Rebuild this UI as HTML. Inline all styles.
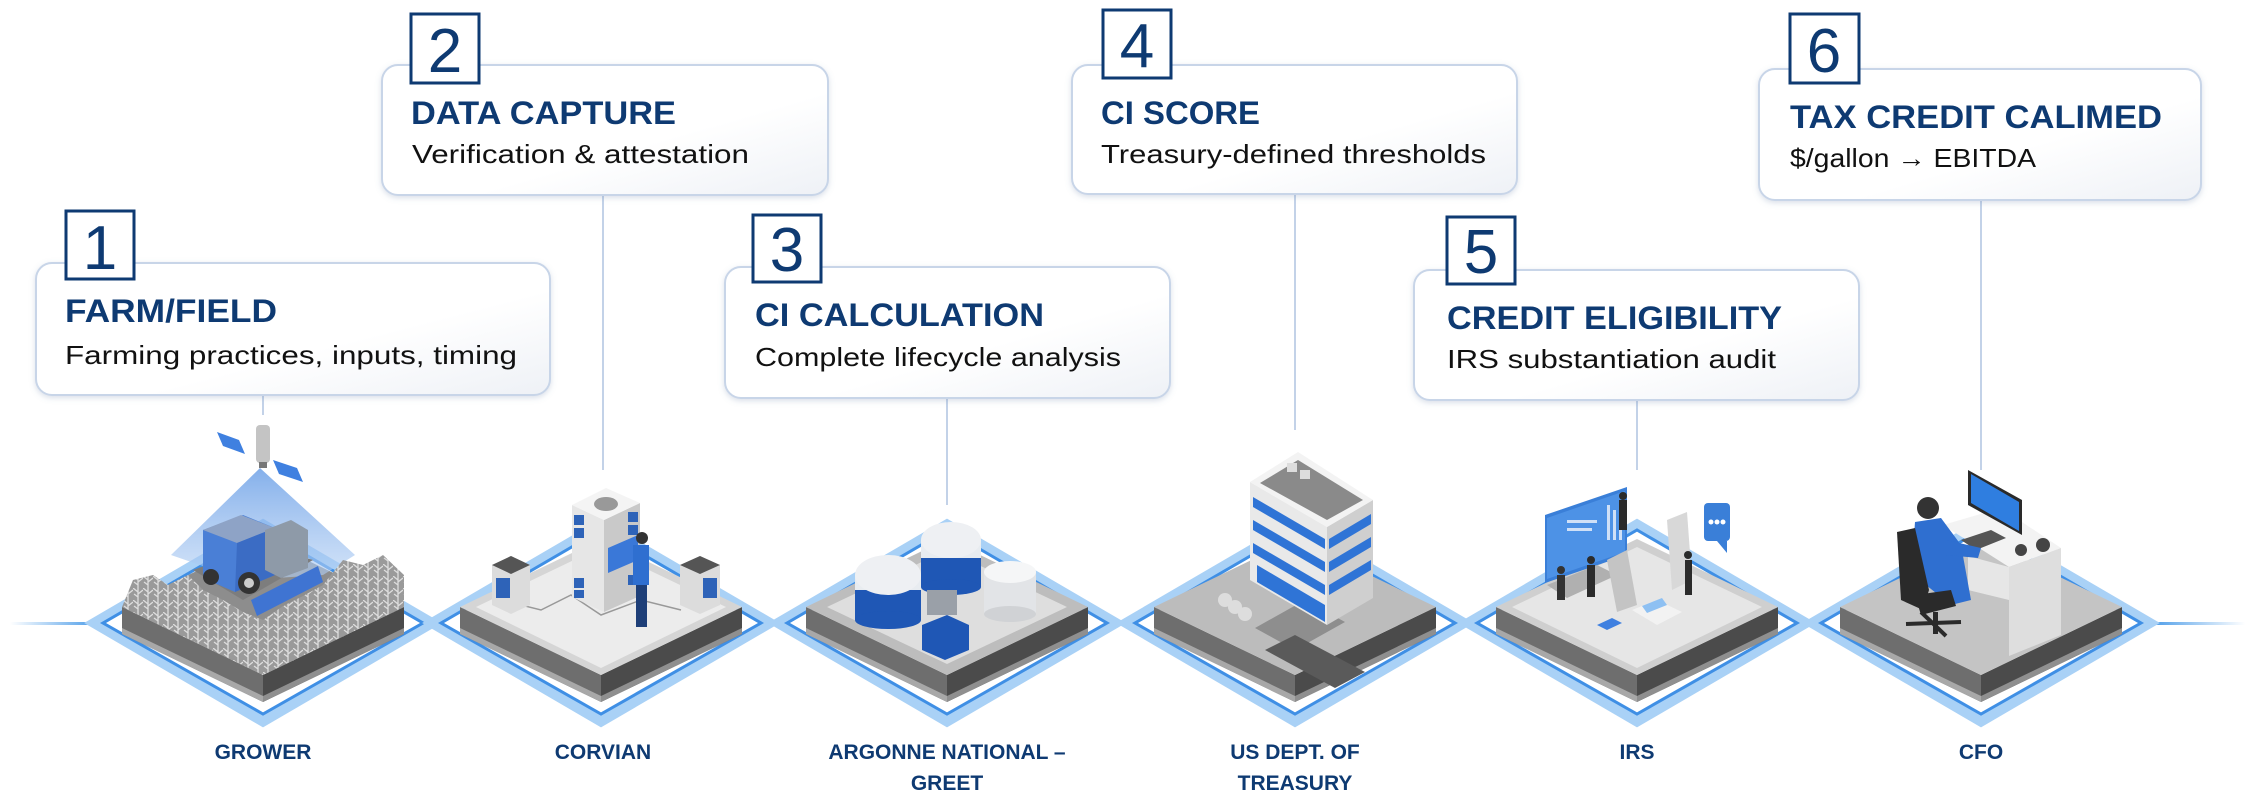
<!DOCTYPE html>
<html><head><meta charset="utf-8"><style>
html,body{margin:0;padding:0;background:#fff;}
svg{display:block;}
.t{font-family:"Liberation Sans",sans-serif;font-weight:bold;fill:#0e3a72;font-size:32px;}
.s{font-family:"Liberation Sans",sans-serif;fill:#111;font-size:26px;}
.n{font-family:"Liberation Sans",sans-serif;fill:#0e3a72;font-size:62px;text-anchor:middle;}
.l{font-family:"Liberation Sans",sans-serif;font-weight:bold;fill:#0e3a72;font-size:21px;text-anchor:middle;}
</style></head><body>
<svg width="2251" height="802" viewBox="0 0 2251 802" xmlns="http://www.w3.org/2000/svg">
<defs>
 <linearGradient id="bg" x1="0" y1="0" x2="1" y2="1"><stop offset="0" stop-color="#ffffff"/><stop offset="0.6" stop-color="#ffffff"/><stop offset="1" stop-color="#eef1f6"/></linearGradient>
 <linearGradient id="hl" x1="0" x2="1"><stop offset="0" stop-color="#4a9be8" stop-opacity="0"/><stop offset="1" stop-color="#4a9be8"/></linearGradient>
 <linearGradient id="hr" x1="0" x2="1"><stop offset="0" stop-color="#4a9be8"/><stop offset="1" stop-color="#4a9be8" stop-opacity="0"/></linearGradient>
 <linearGradient id="beam" x1="0" y1="0" x2="0" y2="1"><stop offset="0" stop-color="#5b95e4" stop-opacity="0.75"/><stop offset="1" stop-color="#b7d2f4" stop-opacity="0.6"/></linearGradient>
 <pattern id="corn" width="10" height="12" patternUnits="userSpaceOnUse"><rect width="10" height="12" fill="#9a9a9a"/><path d="M5 12 L5 0 M5 4 L0 0 M5 6 L10 2 M5 9 L1 6" stroke="#dedede" stroke-width="1.3"/></pattern>
 <filter id="sh" x="-5%" y="-10%" width="110%" height="125%"><feDropShadow dx="0" dy="2" stdDeviation="3" flood-color="#6b82a8" flood-opacity="0.25"/></filter>
 <g id="slab">
  <polygon points="-168,623 0,525 168,623 0,721" fill="none" stroke="#a9d1f6" stroke-width="11"/>
  <polygon points="-160,623 0,530 160,623 0,714" fill="none" stroke="#3f8fe5" stroke-width="3"/>
  <polygon points="-141,607 0,675 0,702 -141,634" fill="#6e6e6e"/>
  <polygon points="141,607 0,675 0,702 141,634" fill="#4b4b4b"/>
  <polygon points="-141,628 0,696 0,702 -141,634" fill="#a8a8a8"/>
  <polygon points="141,628 0,696 0,702 141,634" fill="#8f8f8f"/>
 </g>
 <polygon id="top" points="-141,607 0,539 141,607 0,675"/>
</defs>

<rect x="10" y="622" width="88" height="3" fill="url(#hl)"/>
<rect x="2150" y="622" width="95" height="3" fill="url(#hr)"/>

<g stroke="#c3d2e8" stroke-width="2">
 <line x1="263" y1="396" x2="263" y2="415"/>
 <line x1="603" y1="196" x2="603" y2="470"/>
 <line x1="947" y1="398" x2="947" y2="505"/>
 <line x1="1295" y1="194" x2="1295" y2="430"/>
 <line x1="1637" y1="400" x2="1637" y2="470"/>
 <line x1="1981" y1="200" x2="1981" y2="470"/>
</g>

<g filter="url(#sh)" fill="url(#bg)" stroke="#c8d5e8" stroke-width="2">
 <rect x="36" y="263" width="514" height="132" rx="16"/>
 <rect x="382" y="65" width="446" height="130" rx="16"/>
 <rect x="725" y="267" width="445" height="131" rx="16"/>
 <rect x="1072" y="65" width="445" height="129" rx="16"/>
 <rect x="1414" y="270" width="445" height="130" rx="16"/>
 <rect x="1759" y="69" width="442" height="131" rx="16"/>
</g>
<g fill="#fff" stroke="#0e3a72" stroke-width="3">
 <rect x="66" y="211" width="68" height="68"/>
 <rect x="411" y="14" width="68" height="69"/>
 <rect x="753" y="215" width="68" height="67"/>
 <rect x="1103" y="10" width="68" height="68"/>
 <rect x="1447" y="217" width="68" height="67"/>
 <rect x="1790" y="14" width="69" height="69"/>
</g>
<text class="n" x="100" y="269">1</text>
<text class="n" x="445" y="72">2</text>
<text class="n" x="787" y="271">3</text>
<text class="n" x="1137" y="67">4</text>
<text class="n" x="1481" y="273">5</text>
<text class="n" x="1824" y="72">6</text>

<text class="t" x="65" y="322" textLength="212" lengthAdjust="spacingAndGlyphs">FARM/FIELD</text>
<text class="s" x="65" y="364" textLength="452" lengthAdjust="spacingAndGlyphs">Farming practices, inputs, timing</text>
<text class="t" x="411" y="124" textLength="265" lengthAdjust="spacingAndGlyphs">DATA CAPTURE</text>
<text class="s" x="412" y="163" textLength="337" lengthAdjust="spacingAndGlyphs">Verification &amp; attestation</text>
<text class="t" x="755" y="326" textLength="289" lengthAdjust="spacingAndGlyphs">CI CALCULATION</text>
<text class="s" x="755" y="366" textLength="366" lengthAdjust="spacingAndGlyphs">Complete lifecycle analysis</text>
<text class="t" x="1101" y="124" textLength="159" lengthAdjust="spacingAndGlyphs">CI SCORE</text>
<text class="s" x="1101" y="163" textLength="385" lengthAdjust="spacingAndGlyphs">Treasury-defined thresholds</text>
<text class="t" x="1447" y="329" textLength="335" lengthAdjust="spacingAndGlyphs">CREDIT ELIGIBILITY</text>
<text class="s" x="1447" y="368" textLength="329" lengthAdjust="spacingAndGlyphs">IRS substantiation audit</text>
<text class="t" x="1790" y="128" textLength="372" lengthAdjust="spacingAndGlyphs">TAX CREDIT CALIMED</text>
<text class="s" x="1790" y="167" textLength="246" lengthAdjust="spacingAndGlyphs">$/gallon → EBITDA</text>

<!-- 1 GROWER -->
<g transform="translate(263,0)">
 <use href="#slab"/>
 <use href="#top" fill="#8d8d8d"/>
 <polygon points="-3,468 -92,555 -20,580 60,575 92,555" fill="url(#beam)"/>
 <polygon points="-70,570 0,545 50,560 -20,600" fill="#7d7d7d"/>
 <polygon points="-60,530 -20,515 12,528 12,575 -28,592 -60,578" fill="#4a7fd6"/>
 <polygon points="-60,530 -22,515 12,528 -26,543" fill="#8ea3c6"/>
 <polygon points="-26,543 12,528 12,575 -28,592" fill="#3b6cc4"/>
 <polygon points="2,530 28,520 45,530 45,568 18,578 2,570" fill="#8e9aa8"/>
 <circle cx="-52" cy="577" r="8" fill="#333"/>
 <circle cx="-14" cy="583" r="11" fill="#333"/><circle cx="-14" cy="583" r="5" fill="#ccc"/>
 <polygon points="-12,600 55,566 60,582 -6,616" fill="#3f74d2"/>
 <polygon points="-141,607 -130,580 -110,575 -95,585 -75,575 -60,590 -40,600 -20,612 0,620 20,606 40,596 60,585 80,560 100,565 120,555 141,575 141,607 0,675" fill="url(#corn)"/>
 <rect x="-7" y="425" width="14" height="38" rx="4" fill="#c4c4c4"/>
 <rect x="-4" y="462" width="8" height="6" fill="#777"/>
 <polygon points="-46,432 -24,440 -18,454 -40,446" fill="#3f80e0"/>
 <polygon points="10,460 34,468 40,482 16,474" fill="#3f80e0"/>
</g>

<!-- 2 CORVIAN -->
<g transform="translate(601,0)">
 <use href="#slab"/>
 <use href="#top" fill="#d5d5d5"/>
 <polygon points="-125,607 0,547 125,607 0,668" fill="#ececec"/>
 <polyline points="-100,600 -60,610 -30,595 0,615 40,600 80,610" fill="none" stroke="#999" stroke-width="1.5"/>
 <polygon points="-29,505 3,520 3,612 -29,597" fill="#e6e6e6"/>
 <polygon points="3,520 39,503 39,596 3,612" fill="#c9c9c9"/>
 <polygon points="-29,505 5,488 39,503 3,520" fill="#f4f4f4"/>
 <ellipse cx="5" cy="504" rx="12" ry="7" fill="#999"/>
 <g fill="#2e63b8">
  <rect x="-27" y="515" width="10" height="10"/><rect x="-27" y="528" width="10" height="10"/><rect x="-27" y="578" width="10" height="10"/><rect x="-27" y="590" width="10" height="8"/>
  <rect x="27" y="512" width="10" height="10"/><rect x="27" y="525" width="10" height="10"/><rect x="27" y="575" width="10" height="10"/>
 </g>
 <polygon points="7,548 37,535 37,560 7,573" fill="#3a78d8"/>
 <rect x="32" y="545" width="16" height="40" fill="#2f6fd0"/>
 <rect x="35" y="585" width="11" height="42" fill="#1e3f78"/>
 <circle cx="41" cy="538" r="6" fill="#333"/>
 <polygon points="-109,565 -90,556 -71,565 -71,605 -90,614 -109,605" fill="#dcdcdc"/>
 <polygon points="-109,565 -90,556 -71,565 -90,574" fill="#555"/>
 <rect x="-105" y="578" width="14" height="20" fill="#2e63b8"/>
 <polygon points="79,565 99,556 119,565 119,605 99,614 79,605" fill="#dcdcdc"/>
 <polygon points="79,565 99,556 119,565 99,574" fill="#555"/>
 <rect x="102" y="578" width="14" height="20" fill="#2e63b8"/>
</g>

<!-- 3 ARGONNE -->
<g transform="translate(947,0)">
 <use href="#slab"/>
 <use href="#top" fill="#bdbdbd"/>
 <polygon points="-120,607 0,550 120,607 0,664" fill="#dedede"/>
 <g>
  <rect x="-26" y="540" width="60" height="47" fill="#1f57b5"/>
  <rect x="-26" y="540" width="60" height="18" fill="#e8ecf0"/>
  <ellipse cx="4" cy="540" rx="30" ry="18" fill="#eef0f3"/>
  <ellipse cx="4" cy="587" rx="30" ry="8" fill="#1f57b5"/>
 </g>
 <g>
  <rect x="-92" y="575" width="66" height="45" fill="#1f57b5"/>
  <rect x="-92" y="575" width="66" height="15" fill="#e8ecf0"/>
  <ellipse cx="-59" cy="575" rx="33" ry="20" fill="#eef0f3"/>
  <ellipse cx="-59" cy="620" rx="33" ry="9" fill="#1f57b5"/>
 </g>
 <g>
  <rect x="37" y="572" width="52" height="42" fill="#e2e4e7"/>
  <ellipse cx="63" cy="572" rx="26" ry="11" fill="#f5f6f7"/>
  <ellipse cx="63" cy="614" rx="26" ry="8" fill="#d0d2d5"/>
 </g>
 <polygon points="-25,625 0,615 22,625 22,650 -2,660 -25,650" fill="#1f57b5"/>
 <rect x="-20" y="590" width="30" height="25" fill="#9aa0a8"/>
</g>

<!-- 4 TREASURY -->
<g transform="translate(1295,0)">
 <use href="#slab"/>
 <use href="#top" fill="#bcbcbc"/>
 <polygon points="-40,628 10,600 50,622 0,650" fill="#8e8e8e"/>
 <polygon points="-30,650 0,635 70,672 40,688" fill="#5a5a5a"/>
 <circle cx="-70" cy="600" r="7" fill="#ddd"/><circle cx="-60" cy="607" r="7" fill="#ddd"/><circle cx="-50" cy="614" r="7" fill="#ddd"/>
 <polygon points="-45,482 32,527 32,625 -45,580" fill="#e9e9e9"/>
 <polygon points="32,527 78,500 78,598 32,625" fill="#cfcfcf"/>
 <g fill="#2f74d6">
  <polygon points="-42,497 30,539 30,549 -42,507"/>
  <polygon points="-42,520 30,562 30,572 -42,530"/>
  <polygon points="-42,543 30,585 30,595 -42,553"/>
  <polygon points="-38,565 30,605 30,622 -38,582"/>
  <polygon points="34,539 76,514 76,524 34,549"/>
  <polygon points="34,562 76,537 76,547 34,572"/>
  <polygon points="34,585 76,560 76,570 34,595"/>
 </g>
 <polygon points="-45,482 3,452 78,500 32,527" fill="#f3f3f3"/>
 <polygon points="-35,483 3,460 68,500 32,520" fill="#8a8a8a"/>
 <rect x="-8" y="463" width="10" height="9" fill="#ddd"/><rect x="5" y="470" width="10" height="9" fill="#ddd"/>
</g>

<!-- 5 IRS -->
<g transform="translate(1637,0)">
 <use href="#slab"/>
 <use href="#top" fill="#cfcfcf"/>
 <polygon points="-125,607 0,547 125,607 0,668" fill="#e6e6e6"/>
 <polygon points="-92,515 -10,487 -10,555 -92,583" fill="#3a7fd8"/>
 <polygon points="-90,518 -12,491 -12,552 -90,579" fill="#4d92e6"/>
 <g fill="#cfe0f7"><rect x="-30" y="505" width="3" height="35"/><rect x="-24" y="510" width="3" height="30"/><rect x="-18" y="500" width="3" height="40"/><rect x="-70" y="520" width="30" height="3"/><rect x="-70" y="528" width="25" height="3"/></g>
 <polygon points="-90,585 -40,565 -20,575 -70,598" fill="#b0b0b0"/>
 <polygon points="-30,560 -10,550 0,605 -20,612" fill="#c4c4c4"/>
 <polygon points="30,520 50,512 55,580 35,590" fill="#d8d8d8"/>
 <rect x="-18" y="500" width="8" height="30" fill="#2b2b2b"/><circle cx="-14" cy="496" r="4" fill="#2b2b2b"/>
 <rect x="-50" y="565" width="8" height="32" fill="#2b2b2b"/><circle cx="-46" cy="560" r="4" fill="#2b2b2b"/>
 <rect x="-80" y="575" width="8" height="25" fill="#333"/><circle cx="-76" cy="570" r="4" fill="#333"/>
 <rect x="48" y="560" width="7" height="35" fill="#2b2b2b"/><circle cx="51" cy="555" r="4" fill="#2b2b2b"/>
 <polygon points="-5,610 20,600 45,612 20,625" fill="#f2f2f2"/>
 <polygon points="5,606 25,598 30,605 10,613" fill="#8ec0f2"/>
 <polygon points="-40,625 -25,618 -15,623 -30,630" fill="#3f80e0"/>
 <rect x="67" y="503" width="26" height="38" rx="4" fill="#3a7fd8"/>
 <polygon points="80,541 90,541 90,553" fill="#3a7fd8"/>
 <circle cx="74" cy="522" r="2.5" fill="#fff"/><circle cx="80" cy="522" r="2.5" fill="#fff"/><circle cx="86" cy="522" r="2.5" fill="#fff"/>
</g>

<!-- 6 CFO -->
<g transform="translate(1981,0)">
 <use href="#slab"/>
 <use href="#top" fill="#c4c4c4"/>
 <polygon points="-38,525 20,508 80,548 28,567" fill="#f3f3f3"/>
 <polygon points="28,567 80,548 80,635 28,656" fill="#dedede"/>
 <polygon points="-13,556 28,567 28,600 -13,590" fill="#e6e6e6"/>
 <polygon points="-13,470 41,500 41,535 -13,505" fill="#2a2a2a"/>
 <polygon points="-10,474 38,502 38,531 -10,503" fill="#2f7ee0"/>
 <polygon points="-20,540 10,530 25,538 -5,550" fill="#555"/>
 <circle cx="-53" cy="508" r="11" fill="#333"/>
 <polygon points="-66,522 -40,518 -20,545 -10,600 -30,605 -55,585 -68,550" fill="#2f6fd0"/>
 <polygon points="-35,540 0,548 -3,558 -35,555" fill="#2f6fd0"/>
 <polygon points="-84,532 -66,528 -52,590 -58,610 -80,600" fill="#2a2a2a"/>
 <polygon points="-66,595 -30,590 -25,606 -60,615" fill="#2a2a2a"/>
 <rect x="-48" y="612" width="5" height="22" fill="#2a2a2a"/>
 <line x1="-75" y1="624" x2="-20" y2="622" stroke="#2a2a2a" stroke-width="4"/>
 <line x1="-60" y1="612" x2="-35" y2="636" stroke="#2a2a2a" stroke-width="4"/>
 <circle cx="40" cy="550" r="6" fill="#444"/>
 <circle cx="62" cy="545" r="7" fill="#444"/>
</g>

<text class="l" x="263" y="759">GROWER</text>
<text class="l" x="603" y="759">CORVIAN</text>
<text class="l" x="947" y="759">ARGONNE NATIONAL –</text>
<text class="l" x="947" y="790">GREET</text>
<text class="l" x="1295" y="759">US DEPT. OF</text>
<text class="l" x="1295" y="790">TREASURY</text>
<text class="l" x="1637" y="759">IRS</text>
<text class="l" x="1981" y="759">CFO</text>
</svg>
</body></html>
